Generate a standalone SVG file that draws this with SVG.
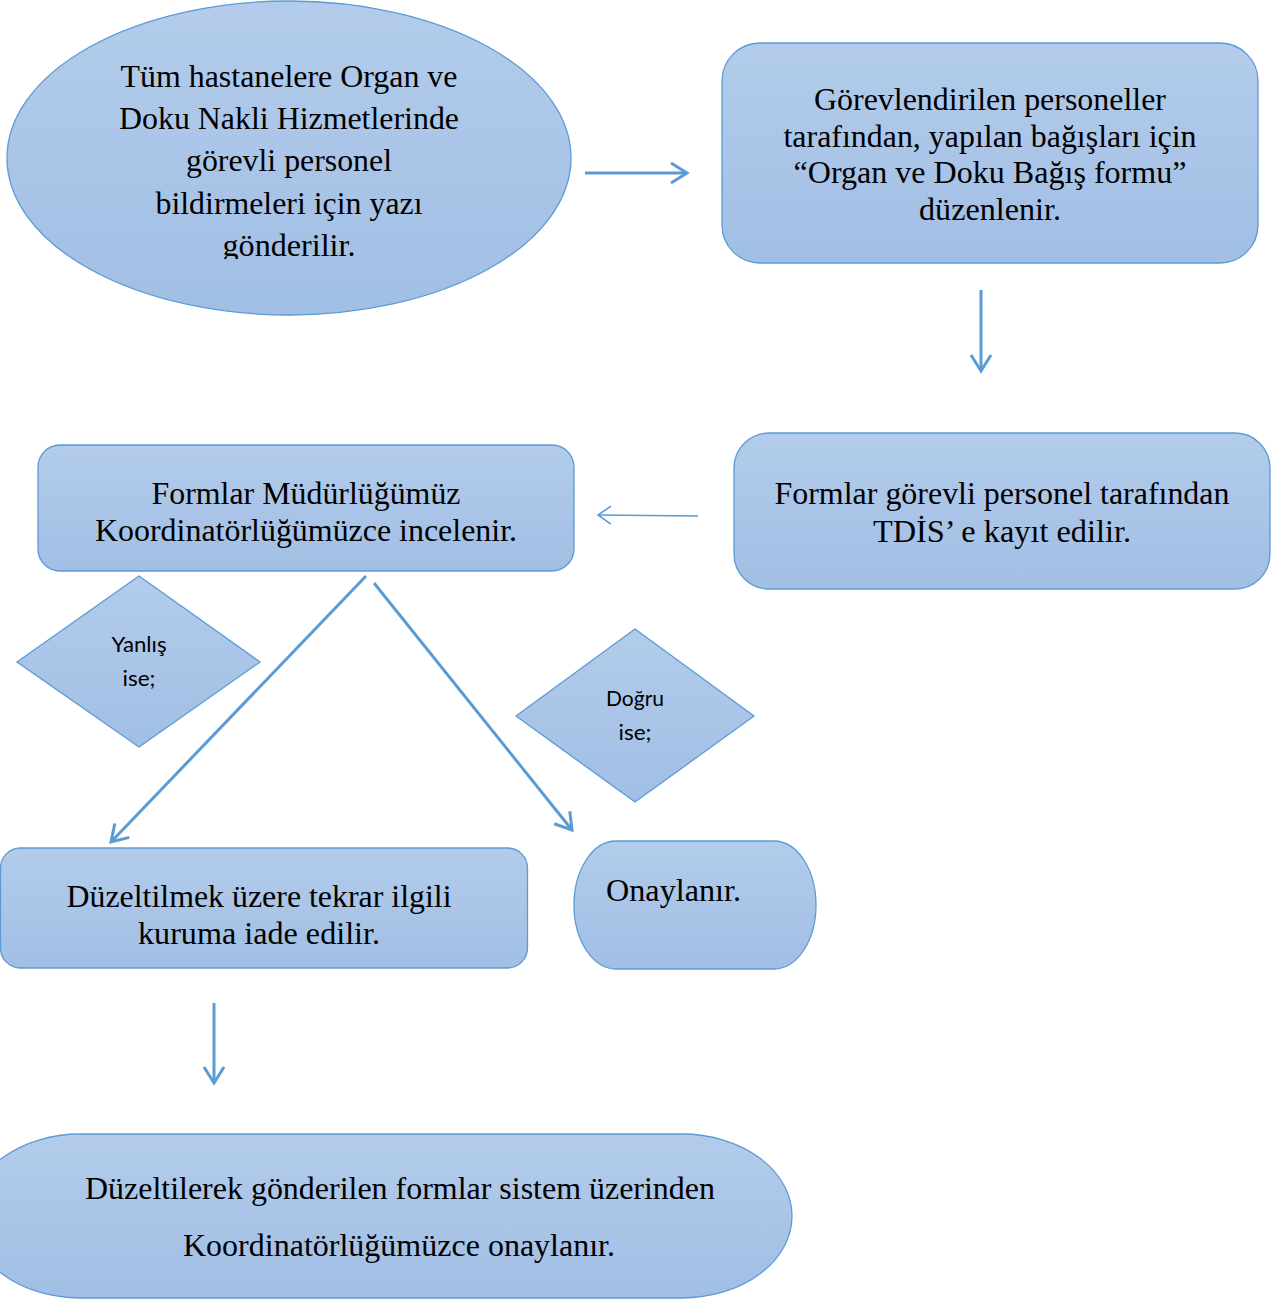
<svg xmlns="http://www.w3.org/2000/svg" width="1279" height="1299" viewBox="0 0 1279 1299">
<defs>
<linearGradient id="g" x1="0" y1="0" x2="0" y2="1">
<stop offset="0" stop-color="#b3cceb"/>
<stop offset="1" stop-color="#a1bee4"/>
</linearGradient>
<marker id="ah" markerUnits="userSpaceOnUse" viewBox="-22 -14 26 28" refX="0" refY="0" markerWidth="26" markerHeight="28" orient="auto">
<path d="M-16,-10 L0,0 L-16,10" fill="none" stroke="#5b9bd5" stroke-width="3" stroke-linejoin="miter"/>
</marker>
<marker id="ahs" markerUnits="userSpaceOnUse" viewBox="-16 -12 20 24" refX="0" refY="0" markerWidth="20" markerHeight="24" orient="auto">
<path d="M-13,-9 L0,0 L-13,9" fill="none" stroke="#5b9bd5" stroke-width="1.6"/>
</marker>
<clipPath id="ec"><rect x="0" y="0" width="600" height="259"/></clipPath>
</defs>
<style>
.s{fill:url(#g);stroke:#5b9bd5;stroke-width:1.3}
.t{font-family:"Liberation Serif","Times New Roman",serif;font-size:31px;fill:#000;text-anchor:middle}
.d{font-family:Lato,"Open Sans",sans-serif;font-size:21px;fill:#000;text-anchor:middle}
.c{fill:none;stroke:#5b9bd5;stroke-width:3}
.cs{fill:none;stroke:#5b9bd5;stroke-width:1.6}
</style>
<rect width="1279" height="1299" fill="#fff"/>

<g id="n1">
<ellipse class="s" cx="289" cy="158" rx="282" ry="157"/>
<g clip-path="url(#ec)">
<text class="t" x="289" y="87" textLength="337" lengthAdjust="spacingAndGlyphs">Tüm hastanelere Organ ve</text>
<text class="t" x="289" y="129" textLength="340" lengthAdjust="spacingAndGlyphs">Doku Nakli Hizmetlerinde</text>
<text class="t" x="289" y="171" textLength="206" lengthAdjust="spacingAndGlyphs">görevli personel</text>
<text class="t" x="289" y="214" textLength="267" lengthAdjust="spacingAndGlyphs">bildirmeleri için yazı</text>
<text class="t" x="289" y="256" textLength="133" lengthAdjust="spacingAndGlyphs">gönderilir.</text>
</g>
</g>

<g id="n2">
<rect class="s" x="722" y="43" width="536" height="220" rx="38" ry="38"/>
<text class="t" x="990" y="110" textLength="352" lengthAdjust="spacingAndGlyphs">Görevlendirilen personeller</text>
<text class="t" x="990" y="147" textLength="413" lengthAdjust="spacingAndGlyphs">tarafından, yapılan bağışları için</text>
<text class="t" x="990" y="183" textLength="393" lengthAdjust="spacingAndGlyphs">“Organ ve Doku Bağış formu”</text>
<text class="t" x="990" y="220" textLength="142" lengthAdjust="spacingAndGlyphs">düzenlenir.</text>
</g>

<g id="n3">
<rect class="s" x="734" y="433" width="536" height="156" rx="35" ry="35"/>
<text class="t" x="1002" y="504" textLength="455" lengthAdjust="spacingAndGlyphs">Formlar görevli personel tarafından</text>
<text class="t" x="1002" y="542" textLength="258" lengthAdjust="spacingAndGlyphs">TDİS’ e kayıt edilir.</text>
</g>

<g id="n4">
<rect class="s" x="38" y="445" width="536" height="126" rx="22" ry="22"/>
<text class="t" x="306" y="504" textLength="309" lengthAdjust="spacingAndGlyphs">Formlar Müdürlüğümüz</text>
<text class="t" x="306" y="541" textLength="422" lengthAdjust="spacingAndGlyphs">Koordinatörlüğümüzce incelenir.</text>
</g>

<g id="d1">
<polygon class="s" points="139,576 260,662 139,747 17,662"/>
<text class="d" x="139" y="652" textLength="55" lengthAdjust="spacingAndGlyphs">Yanlış</text>
<text class="d" x="139" y="686" textLength="33" lengthAdjust="spacingAndGlyphs">ise;</text>
</g>

<g id="d2">
<polygon class="s" points="635,629 754,716 635,802 516,716"/>
<text class="d" x="635" y="706" textLength="58" lengthAdjust="spacingAndGlyphs">Doğru</text>
<text class="d" x="635" y="740" textLength="33" lengthAdjust="spacingAndGlyphs">ise;</text>
</g>

<g id="n5">
<rect class="s" x="0.5" y="848" width="527" height="120" rx="20" ry="20"/>
<text class="t" x="259" y="907" textLength="385" lengthAdjust="spacingAndGlyphs">Düzeltilmek üzere tekrar ilgili</text>
<text class="t" x="259" y="944" textLength="242" lengthAdjust="spacingAndGlyphs">kuruma iade edilir.</text>
</g>

<g id="n6">
<rect class="s" x="574" y="841" width="242" height="128" rx="42" ry="64"/>
<text class="t" x="673.5" y="901" textLength="135" lengthAdjust="spacingAndGlyphs">Onaylanır.</text>
</g>

<g id="n7">
<rect class="s" x="-30" y="1134" width="822" height="164" rx="110" ry="82"/>
<text class="t" x="400" y="1199" textLength="630" lengthAdjust="spacingAndGlyphs">Düzeltilerek gönderilen formlar sistem üzerinden</text>
<text class="t" x="399" y="1256" textLength="432" lengthAdjust="spacingAndGlyphs">Koordinatörlüğümüzce onaylanır.</text>
</g>

<g id="connectors">
<line class="c" x1="585" y1="173" x2="687" y2="173" marker-end="url(#ah)"/>
<line class="c" x1="981" y1="290" x2="981" y2="371" marker-end="url(#ah)"/>
<line class="cs" x1="698" y1="516" x2="598" y2="515" marker-end="url(#ahs)"/>
<line class="c" x1="366" y1="576" x2="111" y2="842" marker-end="url(#ah)"/>
<line class="c" x1="374" y1="583" x2="572" y2="830" marker-end="url(#ah)"/>
<line class="c" x1="214" y1="1003" x2="214" y2="1083" marker-end="url(#ah)"/>
</g>
</svg>
